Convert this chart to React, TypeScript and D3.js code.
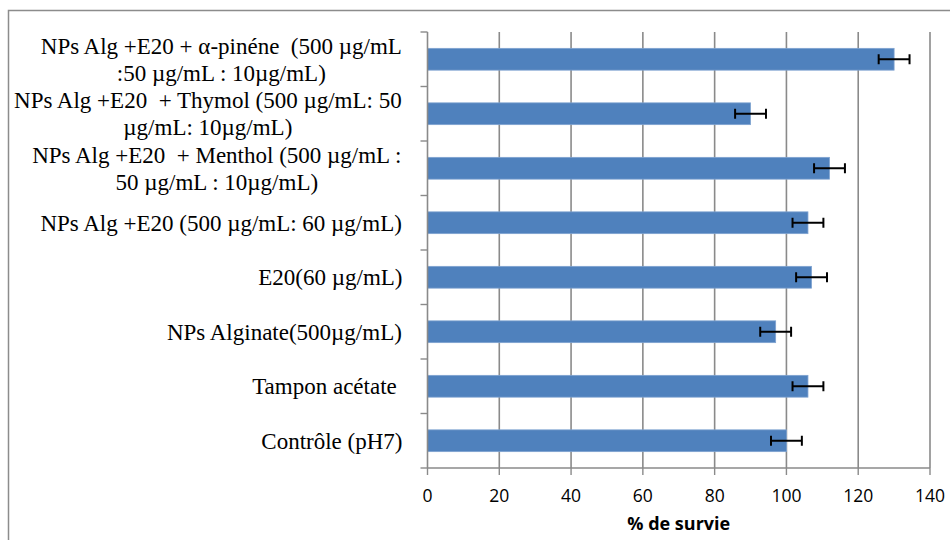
import React, { useMemo } from "react";
import * as d3 from "d3";

const categories: string[][] = [
  ["NPs Alg +E20 + α-pinéne  (500 µg/mL", ":50 µg/mL : 10µg/mL)"],
  ["NPs Alg +E20  + Thymol (500 µg/mL: 50", "µg/mL: 10µg/mL)"],
  ["NPs Alg +E20  + Menthol (500 µg/mL :", "50 µg/mL : 10µg/mL)"],
  ["NPs Alg +E20 (500 µg/mL: 60 µg/mL)"],
  ["E20(60 µg/mL)"],
  ["NPs Alginate(500µg/mL)"],
  ["Tampon acétate "],
  ["Contrôle (pH7)"],
];
const values: number[] = [130, 90, 112, 106, 107, 97, 106, 100];
const errors: number[] = [4.3, 4.3, 4.3, 4.3, 4.3, 4.3, 4.3, 4.3];
const xTicks: number[] = [0, 20, 40, 60, 80, 100, 120, 140];
const xTitle = "% de survie";

const W = 950;
const H = 540;
const M = { left: 427.5, right: 930, top: 32, bottom: 468 };
const LABEL_FONT = "'Liberation Serif', serif";
const LABEL_SIZE = 23;
const TICK_FONT = "'Open Sans', sans-serif";
const GRID = "#8a8a8a";
const BAR = "#4f81bd";

function measure(text: string, font: string): number {
  const c = document.createElement("canvas").getContext("2d");
  if (!c) return text.length * 10;
  c.font = font;
  return c.measureText(text).width;
}

export default function App() {
  const x = d3.scaleLinear().domain([0, 140]).range([M.left, M.right]);
  const idx = categories.map((_, i) => String(i));
  const y = d3.scaleBand().domain(idx).range([M.top, M.bottom]).paddingInner(0.6).paddingOuter(0.3);
  const yb = d3.scaleBand().domain(idx).range([M.top, M.bottom]);
  const labelRight = M.left - 25;
  const lineH = 26.7;

  const blocks = useMemo(
    () =>
      categories.map((lines) => {
        const font = `${LABEL_SIZE}px ${LABEL_FONT}`;
        const w = Math.max(...lines.map((l) => measure(l, font)));
        return { lines, w };
      }),
    []
  );

  return (
    <div style={{ position: "absolute", left: 0, top: 0 }}>
      <svg width={W} height={H} style={{ display: "block" }}>
        <rect x={0} y={0} width={W} height={H} fill="#fff" />
        {/* frame */}
        <path d={`M8.5,${H + 5} V10.5 H${W + 5}`} fill="none" stroke="#8c8c8c" strokeWidth={1.5} />
        {/* gridlines */}
        {xTicks.slice(1).map((t) => (
          <line key={t} x1={x(t)} x2={x(t)} y1={M.top} y2={M.bottom} stroke={GRID} strokeWidth={1.6} />
        ))}
        {/* bars */}
        {values.map((v, i) => (
          <rect
            key={i}
            x={x(0)}
            y={y(String(i))!}
            width={x(v) - x(0)}
            height={y.bandwidth()}
            fill={BAR}
            stroke="#7fa3d0"
            strokeWidth={0.8}
          />
        ))}
        {/* y axis */}
        <line x1={x(0)} x2={x(0)} y1={M.top} y2={M.bottom} stroke={GRID} strokeWidth={1.6} />
        {d3.range(categories.length + 1).map((k) => {
          const yy = M.top + k * yb.step();
          return <line key={k} x1={x(0) - 7} x2={x(0)} y1={yy} y2={yy} stroke={GRID} strokeWidth={1.4} />;
        })}
        {/* x axis */}
        <line x1={x(0)} x2={x(140)} y1={M.bottom} y2={M.bottom} stroke={GRID} strokeWidth={1.6} />
        {xTicks.map((t) => (
          <line key={t} x1={x(t)} x2={x(t)} y1={M.bottom} y2={M.bottom + 7} stroke={GRID} strokeWidth={1.4} />
        ))}
        {xTicks.map((t) => (
          <text
            key={t}
            x={x(t)}
            y={M.bottom + 34}
            textAnchor="middle"
            fontFamily={TICK_FONT}
            fontSize={17.5}
            fill="#000"
          >
            {t}
          </text>
        ))}
        <text
          x={(x(0) + x(140)) / 2}
          y={M.bottom + 62}
          textAnchor="middle"
          fontFamily={TICK_FONT}
          fontWeight="bold"
          fontSize={18}
          fill="#000"
        >
          {xTitle}
        </text>
        {/* error bars */}
        {values.map((v, i) => {
          const cy = y(String(i))! + y.bandwidth() / 2;
          const x1 = x(v - errors[i]);
          const x2 = x(v + errors[i]);
          return (
            <g key={i} stroke="#000" strokeWidth={2}>
              <line x1={x1} x2={x2} y1={cy} y2={cy} />
              <line x1={x1} x2={x1} y1={cy - 5} y2={cy + 5} />
              <line x1={x2} x2={x2} y1={cy - 5} y2={cy + 5} />
            </g>
          );
        })}
        {/* category labels */}
        {blocks.map((b, i) => {
          const cy = (yb(String(i)) ?? 0) + yb.bandwidth() / 2;
          const cx = labelRight - b.w / 2;
          const n = b.lines.length;
          return (
            <text
              key={i}
              fontFamily={LABEL_FONT}
              fontSize={LABEL_SIZE}
              textAnchor="middle"
              fill="#000"
              style={{ whiteSpace: "pre" }}
            >
              {b.lines.map((l, j) => (
                <tspan key={j} x={cx} y={cy + (j - (n - 1) / 2) * lineH} dy="0.35em">
                  {l}
                </tspan>
              ))}
            </text>
          );
        })}
      </svg>
    </div>
  );
}
